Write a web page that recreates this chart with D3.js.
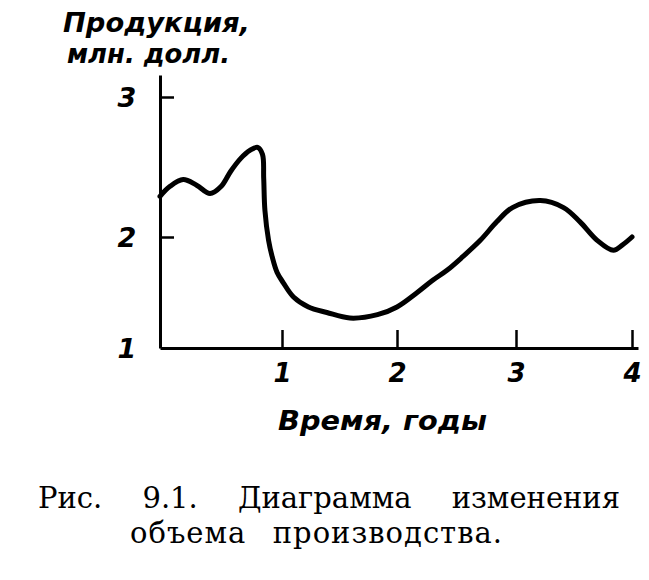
<!DOCTYPE html>
<html>
<head>
<meta charset="utf-8">
<script src="https://cdn.jsdelivr.net/npm/d3@7"></script>
<style>
  html, body { margin: 0; padding: 0; background: #fff; }
  svg { display: block; }
  .draft { font-family: "DejaVu Sans", sans-serif; font-style: italic; font-weight: bold; fill: #000; }
  .cap { font-family: "DejaVu Serif", "Liberation Serif", serif; fill: #000; }
</style>
</head>
<body>
<script>
// ---- data ----
const timeYears = [0, 0.08, 0.19, 0.30, 0.41, 0.50, 0.58, 0.66, 0.74, 0.80, 0.84, 0.85, 0.86, 0.89, 0.92, 0.96,
  1.01, 1.10, 1.23, 1.39, 1.59, 1.83, 2.00, 2.17, 2.30, 2.42, 2.55, 2.70, 2.84, 2.97, 3.21, 3.41, 3.55, 3.70, 3.84, 3.92, 4.00];
const production = [2.29, 2.36, 2.41, 2.37, 2.31, 2.36, 2.47, 2.56, 2.62, 2.64, 2.59, 2.42, 2.19, 1.97, 1.82, 1.68,
  1.59, 1.46, 1.37, 1.32, 1.27, 1.30, 1.37, 1.50, 1.61, 1.70, 1.82, 1.97, 2.11, 2.21, 2.26, 2.21, 2.11, 1.97, 1.88, 1.93, 2.00];
const xTickValues = [1, 2, 3, 4];
const xTickLabels = ["1", "2", "3", "4"];
const yTickValues = [1, 2, 3];
const yTickLabels = ["1", "2", "3"];
const yTitleLines = ["Продукция,", "млн. долл."];
const xTitle = "Время, годы";
const captionLines = ["Рис. 9.1. Диаграмма изменения", "объема производства."];

// ---- scales (hand-drawn axes: piecewise linear) ----
const x = d3.scaleLinear().domain([0, 1, 2, 3, 4, 4.05]).range([160, 282, 397, 516, 632, 638]);
const y = d3.scaleLinear().domain([1, 2, 3, 3.157]).range([348, 237, 97, 75]);

const svg = d3.select("body").append("svg").attr("width", 649).attr("height", 580);
svg.append("rect").attr("width", 649).attr("height", 580).attr("fill", "#fff");

// x axis
const gx = svg.append("g").attr("transform", `translate(0,${y(1)})`)
  .call(d3.axisBottom(x).tickValues(xTickValues).tickFormat((d, i) => xTickLabels[i]).tickSizeInner(-18).tickSizeOuter(0));
gx.select(".domain").attr("stroke", "#000").attr("stroke-width", 3);
gx.selectAll(".tick line").attr("stroke", "#000").attr("stroke-width", 2.5);
gx.selectAll(".tick text").attr("class", "draft").attr("y", 34).attr("dy", 0)
  .style("font-size", "26px").attr("text-anchor", "middle");

// y axis
const gy = svg.append("g").attr("transform", `translate(${x(0)},0)`)
  .call(d3.axisLeft(y).tickValues(yTickValues).tickFormat((d, i) => yTickLabels[i]).tickSizeInner(-14).tickSizeOuter(0));
gy.select(".domain").attr("stroke", "#000").attr("stroke-width", 3);
gy.selectAll(".tick line").attr("stroke", "#000").attr("stroke-width", 2.5)
  .attr("display", d => d === 1 ? "none" : null);
gy.selectAll(".tick text").attr("class", "draft").attr("x", -33).attr("dy", "0.36em")
  .style("font-size", "27px").attr("text-anchor", "middle");

// curve
const line = d3.line().x((d, i) => x(timeYears[i])).y(d => y(d)).curve(d3.curveCatmullRom.alpha(0.5));
svg.append("path").datum(production).attr("d", line)
  .attr("fill", "none").attr("stroke", "#000").attr("stroke-width", 5)
  .attr("stroke-linecap", "round").attr("stroke-linejoin", "round");

// y title
svg.append("text").attr("class", "draft").attr("x", 63).attr("y", 32)
  .attr("textLength", 187).attr("lengthAdjust", "spacingAndGlyphs").style("font-size", "26px").text(yTitleLines[0]);
svg.append("text").attr("class", "draft").attr("x", 67).attr("y", 63)
  .attr("textLength", 163).attr("lengthAdjust", "spacingAndGlyphs").style("font-size", "26px").text(yTitleLines[1]);

// x title
svg.append("text").attr("class", "draft").attr("x", 278).attr("y", 430)
  .attr("textLength", 209).attr("lengthAdjust", "spacingAndGlyphs").style("font-size", "27px").text(xTitle);

// caption, justified by word spacing
function justify(sel, target) {
  const natural = sel.node().getComputedTextLength();
  const spaces = (sel.text().match(/ /g) || []).length;
  const ws = Math.max(0, (target - natural) / spaces);
  sel.style("word-spacing", ws + "px");
  return ws;
}
const cap1 = svg.append("text").attr("class", "cap").attr("x", 38).attr("y", 508)
  .style("font-size", "29px").text(captionLines[0]);
justify(cap1, 582);
const cap2 = svg.append("text").attr("class", "cap").attr("x", 130).attr("y", 543)
  .style("font-size", "29px").style("letter-spacing", "1px").text(captionLines[1]);
justify(cap2, 373);
</script>
</body>
</html>
